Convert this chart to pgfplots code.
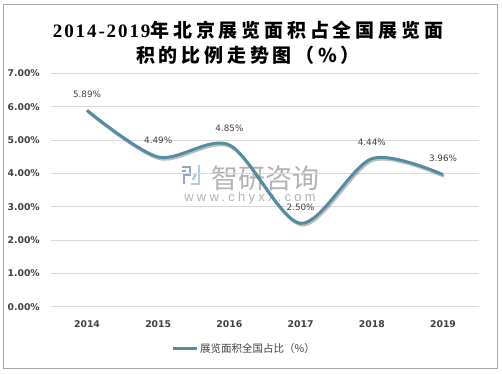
\documentclass[border=0pt]{standalone}
\usepackage{pgfplots}
\pgfplotsset{compat=1.18}
\usepackage{fontspec}
\setmainfont{DejaVu Sans}
\newfontfamily\cjk{Noto Sans CJK SC}
\newfontfamily\titlecjk[LetterSpace=20]{Noto Sans CJK SC}
\newfontfamily\titleserif[LetterSpace=10]{Liberation Serif}
\newfontfamily\wm{Liberation Sans}
\definecolor{linec}{RGB}{84,141,163}
\definecolor{txt}{RGB}{64,64,64}
\definecolor{gridc}{RGB}{217,217,217}
\definecolor{logoa}{RGB}{125,143,179}
\definecolor{logob}{RGB}{160,190,222}
\begin{document}
\begin{tikzpicture}
\path[use as bounding box] (0pt,0pt) rectangle (502pt,373pt);
\draw[gray!70, line width=0.8pt] (3.5pt,5pt) rectangle (497pt,369pt);
\node[anchor=center, inner sep=0pt] at (248pt,343pt) {{\titleserif\bfseries\fontsize{19}{22}\selectfont 2014-2019}{\titlecjk\bfseries\fontsize{19}{22}\selectfont 年北京展览面积占全国展览面}};
\node[anchor=center, inner sep=0pt] at (248pt,318pt) {\titlecjk\bfseries\fontsize{19}{22}\selectfont 积的比例走势图（\%）};
% watermark
\node[anchor=center, inner sep=0pt, text=gray!85, opacity=0.7] at (265pt,195pt) {\cjk\fontsize{27}{30}\selectfont 智研咨询};
\node[anchor=center, inner sep=0pt, text=gray!85, opacity=0.7] at (250pt,175pt) {\wm\addfontfeature{LetterSpace=25}\fontsize{13}{15}\selectfont www.chyxx.com};
\begin{scope}[opacity=0.8, line width=2.6pt]
\draw[logoa] (182pt,206pt) -- (190pt,206pt) -- (190pt,198pt) -- (184pt,198pt) -- (184pt,189pt);
\draw[logoa] (182pt,202pt) -- (186pt,202pt);
\draw[logob] (199pt,208pt) -- (199pt,189pt) -- (191pt,189pt);
\draw[logob] (193pt,193pt) -- (196pt,200pt);
\end{scope}
\begin{axis}[
  at={(51.4pt,66.3pt)}, anchor=south west,
  scale only axis, width=427.2pt, height=233.4pt,
  xmin=-0.5, xmax=5.5, ymin=0, ymax=7,
  xtick={0,1,2,3,4,5},
  xticklabels={2014,2015,2016,2017,2018,2019},
  ytick={0,1,2,3,4,5,6,7},
  yticklabel={\pgfmathprintnumber[fixed,fixed zerofill,precision=2]{\tick}\%},
  /pgf/number format/assume math mode=true,
  axis line style={draw=none},
  axis x line*=bottom,
  x axis line style={draw=gridc, line width=0.8pt},
  ymajorgrids, grid style={gridc, line width=0.8pt},
  major tick length=0pt,
  tick label style={font=\bfseries\fontsize{9.3}{11}\selectfont, text=txt},
  yticklabel style={inner sep=0pt, xshift=-11.4pt},
  xticklabel style={inner sep=0pt, yshift=-13.5pt},
  clip=false,
  legend style={at={(0.28,-0.181)}, anchor=west, draw=none, fill=none, inner sep=0pt,
    font=\cjk\fontsize{10.5}{12}\selectfont, text=txt},
  legend image code/.code={\draw[#1, line width=3pt] (0pt,0pt) -- (24pt,0pt);},
]
\addplot[smooth, line width=3.2pt, black, opacity=0.25, forget plot,
  transform canvas={xshift=1.2pt, yshift=-1.6pt}]
  coordinates {(0,5.89) (1,4.49) (2,4.85) (3,2.50) (4,4.44) (5,3.96)};
\addplot[smooth, line width=3pt, linec,
  nodes near coords={\pgfmathprintnumber[fixed,fixed zerofill,precision=2]{\pgfplotspointmeta}\%},
  point meta=y,
  every node near coord/.append style={font=\fontsize{8.8}{11}\selectfont, text=txt, anchor=center, inner sep=0pt, yshift=16.5pt}]
  coordinates {(0,5.89) (1,4.49) (2,4.85) (3,2.50) (4,4.44) (5,3.96)};
\addlegendentry{展览面积全国占比（\%）}
\end{axis}
\end{tikzpicture}
\end{document}
